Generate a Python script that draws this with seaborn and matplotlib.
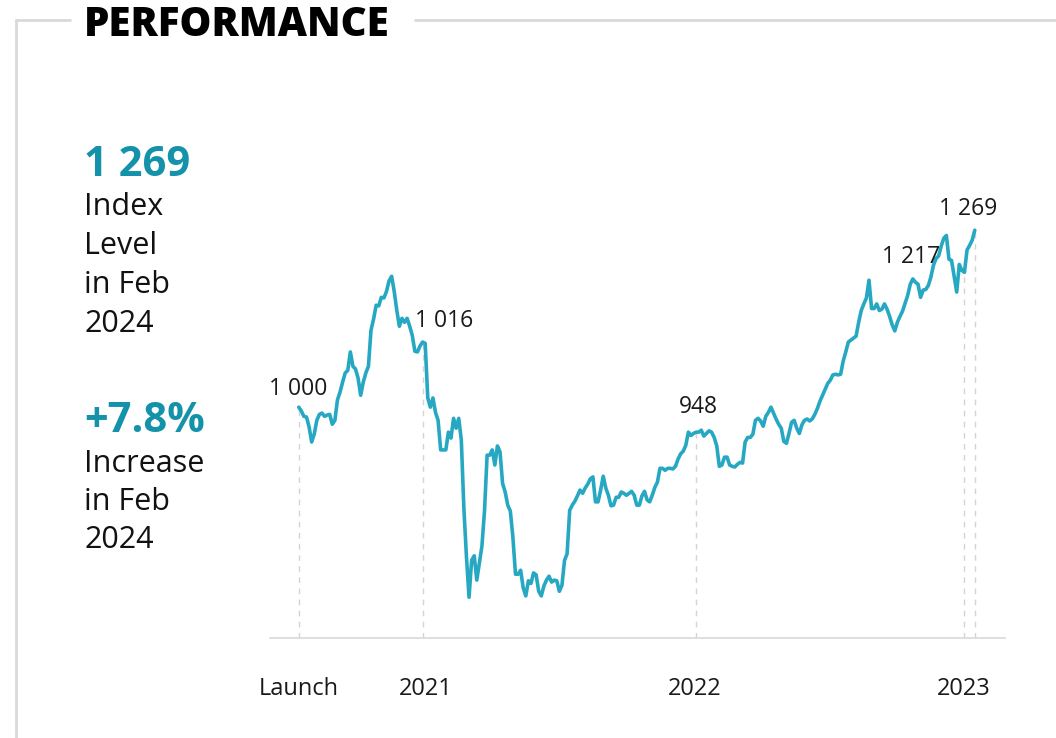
import pandas as pd
import numpy as np
import matplotlib
matplotlib.use("Agg")
import matplotlib.pyplot as plt
import seaborn as sns
from matplotlib.lines import Line2D

launch_date = "2020-07-13"
index_level = [
    1000, 994, 986, 985, 970, 947, 959, 980, 989, 991,
    986, 988, 989, 974, 980, 1011, 1023, 1038, 1052, 1056,
    1084, 1062, 1058, 1044, 1018, 1038, 1052, 1062, 1117, 1134,
    1155, 1154, 1167, 1166, 1176, 1192, 1199, 1176, 1147, 1123,
    1135, 1129, 1135, 1123, 1109, 1085, 1084, 1093, 1099, 1097,
    1014, 1000, 1014, 992, 980, 935, 935, 935, 962, 953,
    983, 968, 983, 950, 846, 772, 711, 767, 774, 737,
    763, 789, 843, 927, 927, 935, 912, 941, 932, 884,
    871, 851, 842, 802, 746, 746, 752, 725, 713, 736,
    732, 748, 745, 720, 713, 728, 737, 743, 734, 737,
    736, 720, 729, 767, 777, 843, 851, 857, 865, 874,
    869, 877, 883, 891, 894, 856, 856, 874, 895, 877,
    866, 850, 851, 863, 863, 871, 869, 866, 869, 872,
    866, 851, 851, 865, 872, 859, 856, 866, 878, 886,
    907, 907, 904, 907, 907, 906, 910, 921, 929, 933,
    942, 962, 957, 960, 962, 962, 965, 956, 960, 964,
    962, 954, 941, 910, 912, 924, 924, 912, 910, 909,
    913, 916, 915, 947, 954, 954, 959, 980, 983, 979,
    971, 986, 992, 1000, 991, 982, 974, 968, 948, 945,
    960, 977, 980, 968, 960, 973, 980, 982, 979, 982,
    989, 998, 1009, 1018, 1027, 1036, 1041, 1049, 1050, 1049,
    1050, 1070, 1084, 1099, 1102, 1105, 1108, 1129, 1147, 1157,
    1166, 1193, 1150, 1150, 1157, 1147, 1149, 1157, 1149, 1138,
    1125, 1116, 1129, 1138, 1146, 1158, 1170, 1187, 1195, 1190,
    1187, 1167, 1178, 1179, 1185, 1198, 1216, 1226, 1230, 1245,
    1257, 1261, 1225, 1223, 1199, 1175, 1217, 1208, 1205, 1239,
    1246, 1254, 1269,
]

# highlighted points (position in the series) and their labels
marked_idx = [0, 48, 154, 258, 262]
marked_labels = ["1 000", "1 016", "948", "1 217", "1 269"]

tick_dates = ["2020-07-13", "2021-01-01", "2022-01-01", "2023-01-01"]
tick_labels = ["Launch", "2021", "2022", "2023"]

headline_value = "1 269"
headline_text = ["Index", "Level", "in Feb", "2024"]
change_value = "+7.8%"
change_text = ["Increase", "in Feb", "2024"]

df = pd.DataFrame({
    "date": pd.date_range(launch_date, periods=len(index_level), freq="84h"),
    "level": index_level,
})

sns.set_style("white")
plt.rcParams["font.family"] = ["Open Sans", "DejaVu Sans"]

line_col = "#27a8c2"
accent = "#1492a9"
grey = "#d9d9d9"

fig = plt.figure(figsize=(10.56, 7.38), dpi=100)
ax = fig.add_axes([270 / 1056, 100 / 738, 735 / 1056, 438 / 738])

sns.lineplot(data=df, x="date", y="level", color=line_col, linewidth=2.6, ax=ax)

ymin, ymax = 649, 1315
ax.set_ylim(ymin, ymax)
ax.set_xlim(pd.Timestamp("2020-06-04"), pd.Timestamp("2023-02-26"))

# dashed drop lines + value labels
offsets = [(-1, 18), (22, 21), (2, 25), (-53, 15), (-7, 21)]
for i, lab, off in zip(marked_idx, marked_labels, offsets):
    d = df["date"].iloc[i]
    v = df["level"].iloc[i]
    ax.vlines(d, ymin, v, colors="#d4d4d4", linestyles=(0, (4, 4)), linewidth=1, zorder=1)
    ax.annotate(lab, (d, v), xytext=off, textcoords="offset pixels",
                ha="center", va="center", fontsize=16.5, color="#1a1a1a")

ax.set_xticks(pd.to_datetime(tick_dates))
ax.set_xticklabels(tick_labels, fontsize=17, color="#1a1a1a")
ax.tick_params(axis="x", length=0, pad=28)
ax.set_yticks([])
ax.set_xlabel("")
ax.set_ylabel("")
for s in ["top", "right", "left"]:
    ax.spines[s].set_visible(False)
ax.spines["bottom"].set_color(grey)
ax.spines["bottom"].set_linewidth(1.2)

# frame around the panel
def fy(py):
    return 1 - py / 738

fig.add_artist(Line2D([16 / 1056, 70 / 1056], [fy(20), fy(20)], color=grey, lw=2))
fig.add_artist(Line2D([415 / 1056, 1.0], [fy(20), fy(20)], color=grey, lw=2))
fig.add_artist(Line2D([16 / 1056, 16 / 1056], [fy(20), 0], color=grey, lw=2))

fig.text(84 / 1056, fy(36), "PERFORMANCE", fontsize=29, fontweight="heavy",
         color="black", va="baseline")

# side stats
fig.text(84 / 1056, fy(176), headline_value, fontsize=30, fontweight="bold",
         color=accent, va="baseline")
for k, t in enumerate(headline_text):
    fig.text(84 / 1056, fy(215 + 39 * k), t, fontsize=22, color="#111111", va="baseline")

fig.text(84 / 1056, fy(432), change_value, fontsize=30, fontweight="bold",
         color=accent, va="baseline")
for k, t in enumerate(change_text):
    fig.text(84 / 1056, fy(472 + 38 * k), t, fontsize=22, color="#111111", va="baseline")

fig.savefig("out.png", dpi=100)
